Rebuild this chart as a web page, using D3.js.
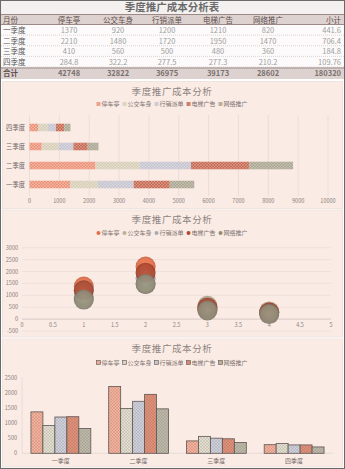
<!DOCTYPE html>
<html lang="zh">
<head>
<meta charset="UTF-8">
<title>季度推广成本分析</title>
<script src="https://d3js.org/d3.v7.min.js"></script>
<style>
  body { margin: 0; background: #fff; }
  svg { display: block; font-family: "Noto Sans CJK SC", "Noto Sans", sans-serif; }
</style>
</head>
<body>
<svg width="345" height="469"></svg>
<script>
var quarters = ["一季度", "二季度", "三季度", "四季度"];
var channels = ["停车亭", "公交车身", "行销派单", "电梯广告", "网络推广"];
var tingche = [1370, 2210, 410, 284.8];
var gongjiao = [920, 1480, 560, 322.2];
var paidan = [1200, 1720, 500, 277.5];
var dianti = [1210, 1950, 480, 277.3];
var wangluo = [820, 1470, 360, 210.2];
var subtotals = [441.6, 706.4, 184.8, 109.76];
var totals = [42748, 32822, 36975, 39173, 28602, 180320];
var barTicks = [0, 1000, 2000, 3000, 4000, 5000, 6000, 7000, 8000, 9000, 10000];
var bubbleXTicks = [0, 0.5, 1, 1.5, 2, 2.5, 3, 3.5, 4, 4.5, 5];
var bubbleYTicks = [-500, 0, 500, 1000, 1500, 2000, 2500, 3000];
var columnTicks = [0, 500, 1000, 1500, 2000, 2500];

var series = [tingche, gongjiao, paidan, dianti, wangluo];
var barColors = ["#ec9479", "#d8cfb8", "#c6c5d0", "#c86b55", "#aca793"];
var bubbleColors = ["#e26f48", "#bdb193", "#a9aab6", "#ad4a31", "#8f8c79"];
var colColors = ["#f4b09a", "#e2dfcf", "#ced0dc", "#e09079", "#bcb9a9"];

var svg = d3.select("svg");
var defs = svg.append("defs");

function makePattern(id, color, hatch, op) {
  var p = defs.append("pattern").attr("id", id)
    .attr("patternUnits", "userSpaceOnUse").attr("width", 3).attr("height", 3);
  p.append("rect").attr("width", 3).attr("height", 3).attr("fill", color);
  p.append("path").attr("d", "M0,0L3,3M3,0L0,3M-1,2L1,4M2,-1L4,1")
    .attr("stroke", hatch).attr("stroke-opacity", op).attr("stroke-width", 0.6);
}
barColors.forEach(function(c, i) { makePattern("bp" + i, c, "#fff", 0.35); });
colColors.forEach(function(c, i) { makePattern("cp" + i, c, "#5e4a44", 0.22); });
bubbleColors.forEach(function(c, i) {
  var g = defs.append("radialGradient").attr("id", "bg" + i);
  g.append("stop").attr("offset", "0%").attr("stop-color", d3.color(c).brighter(0.25));
  g.append("stop").attr("offset", "80%").attr("stop-color", c);
  g.append("stop").attr("offset", "100%").attr("stop-color", d3.color(c).darker(0.4));
});

// ---------- table ----------
svg.append("rect").attr("x", 0).attr("y", 0).attr("width", 345).attr("height", 469).attr("fill", "#fff");
svg.append("rect").attr("x", 1).attr("y", 1).attr("width", 343).attr("height", 13).attr("fill", "#f3f0ef");
svg.append("text").attr("x", 172).attr("y", 11).attr("text-anchor", "middle")
  .attr("font-size", 10.5).attr("font-weight", "bold").attr("fill", "#6b6b6b")
  .text("季度推广成本分析表");

var colX = [69, 118, 167, 218, 268];
var headRow = svg.append("g");
headRow.append("rect").attr("x", 1).attr("y", 14).attr("width", 343).attr("height", 11).attr("fill", "#ddd2cf");
headRow.append("line").attr("x1", 1).attr("x2", 344).attr("y1", 14.5).attr("y2", 14.5).attr("stroke", "#9b8986");
headRow.append("line").attr("x1", 1).attr("x2", 344).attr("y1", 24.5).attr("y2", 24.5).attr("stroke", "#9b8986");
headRow.append("text").attr("x", 3).attr("y", 22.5).text("月份");
headRow.selectAll("text.h").data(channels).join("text").attr("class", "h")
  .attr("x", function(d, i) { return colX[i]; }).attr("y", 22.5).attr("text-anchor", "middle").text(function(d) { return d; });
headRow.append("text").attr("x", 341).attr("y", 22.5).attr("text-anchor", "end").text("小计");
headRow.selectAll("text").attr("font-size", 7.5).attr("fill", "#5e4f4d");

var rowY = d3.scaleBand().domain(quarters).range([25, 67.5]);
svg.append("rect").attr("x", 1).attr("y", 25).attr("width", 343).attr("height", 42.5).attr("fill", "#fcfafa");
var rows = svg.selectAll("g.row").data(quarters).join("g").attr("class", "row")
  .attr("transform", function(d) { return "translate(0," + rowY(d) + ")"; });
rows.append("line").attr("x1", 1).attr("x2", 344).attr("y1", rowY.bandwidth() - 0.5).attr("y2", rowY.bandwidth() - 0.5)
  .attr("stroke", "#dcd3d1").attr("stroke-dasharray", "1,1");
rows.append("text").attr("x", 3).attr("y", 8.2).attr("font-size", 7.5).attr("fill", "#5a5a5a").text(function(d) { return d; });
rows.each(function(q, qi) {
  var g = d3.select(this);
  series.forEach(function(s, si) {
    g.append("text").attr("x", colX[si]).attr("y", 8.2).attr("text-anchor", "middle")
      .attr("font-size", 7.5).attr("fill", "#a0a0a0").text(s[qi]);
  });
  g.append("text").attr("x", 341).attr("y", 8.2).attr("text-anchor", "end")
    .attr("font-size", 7.5).attr("fill", "#a0a0a0").text(subtotals[qi]);
});

var totRow = svg.append("g");
totRow.append("rect").attr("x", 1).attr("y", 67.5).attr("width", 343).attr("height", 11.5).attr("fill", "#ddd2cf");
totRow.append("line").attr("x1", 1).attr("x2", 344).attr("y1", 68).attr("y2", 68).attr("stroke", "#9b8986");
totRow.append("text").attr("x", 3).attr("y", 76.3).attr("fill", "#5e4f4d").text("合计");
totRow.selectAll("text.t").data(totals).join("text").attr("class", "t")
  .attr("x", function(d, i) { return i < 5 ? colX[i] : 341; })
  .attr("text-anchor", function(d, i) { return i < 5 ? "middle" : "end"; })
  .attr("y", 76.3).attr("fill", "#7a7070").text(function(d) { return d; });
totRow.selectAll("text").attr("font-size", 7.5).attr("font-weight", "bold");

// ---------- panels ----------
function panel(y0, h) {
  svg.append("rect").attr("x", 2.5).attr("y", y0 + 0.5).attr("width", 340).attr("height", h)
    .attr("fill", "#fbebe5").attr("stroke", "#efe3df");
}
function title(y) {
  svg.append("text").attr("x", 172).attr("y", y).attr("text-anchor", "middle")
    .attr("font-size", 9.5).attr("letter-spacing", 0.6).attr("fill", "#8c8480").text("季度推广成本分析");
}
function legend(y, kind, fills) {
  var g = svg.append("g");
  var items = g.selectAll("g").data(channels).join("g");
  items.append("text").attr("x", 5).attr("y", y + 2).attr("font-size", 6).attr("fill", "#7b7370").text(function(d) { return d; });
  if (kind === "circle") {
    items.append("circle").attr("cx", 2).attr("cy", y).attr("r", 2).attr("fill", function(d, i) { return fills[i]; });
  } else {
    items.append("rect").attr("x", 0).attr("y", y - 2).attr("width", 4).attr("height", 4)
      .attr("fill", function(d, i) { return fills[i]; })
      .attr("stroke", kind === "outline" ? "#5e5654" : "none").attr("stroke-width", 0.6);
  }
  var widths = [];
  items.each(function() { widths.push(this.getBBox().width); });
  var total = d3.sum(widths) + 3 * (widths.length - 1);
  var x = 172 - total / 2;
  items.attr("transform", function(d, i) { var t = "translate(" + x + ",0)"; x += widths[i] + 3; return t; });
}

panel(81, 127);
panel(209.5, 127);
panel(338.5, 128);

// ---------- chart 1: stacked horizontal bars ----------
title(95);
legend(104, "square", barColors.map(function(c, i) { return "url(#bp" + i + ")"; }));
var x1 = d3.scaleLinear().domain([0, 10000]).range([29.5, 328]);
var y1 = d3.scaleBand().domain(quarters.slice().reverse()).range([118, 194]).paddingInner(0.6).paddingOuter(0.3);
var c1 = svg.append("g");
c1.selectAll("line.grid").data(barTicks).join("line").attr("class", "grid")
  .attr("x1", function(d) { return x1(d); }).attr("x2", function(d) { return x1(d); })
  .attr("y1", 115).attr("y2", 196).attr("stroke", "#e3d8d4").attr("stroke-width", 0.7);
c1.selectAll("text.tick").data(barTicks).join("text").attr("class", "tick")
  .attr("x", function(d) { return x1(d); }).attr("y", 203).attr("text-anchor", "middle")
  .attr("font-size", 5.5).attr("fill", "#8a8280").text(function(d) { return d; });
c1.selectAll("text.cat").data(quarters).join("text").attr("class", "cat")
  .attr("x", 25).attr("y", function(d) { return y1(d) + y1.bandwidth() / 2 + 2.2; }).attr("text-anchor", "end")
  .attr("font-size", 6.3).attr("fill", "#6f6865").text(function(d) { return d; });
var stackRows = quarters.map(function(q, i) { return { q: q, v: series.map(function(s) { return s[i]; }) }; });
var stacked = d3.stack().keys(d3.range(5)).value(function(d, k) { return d.v[k]; })(stackRows);
c1.selectAll("g.layer").data(stacked).join("g").attr("class", "layer")
  .attr("fill", function(d, i) { return "url(#bp" + i + ")"; })
  .selectAll("rect").data(function(d) { return d; }).join("rect")
  .attr("x", function(d) { return x1(d[0]); }).attr("width", function(d) { return x1(d[1]) - x1(d[0]); })
  .attr("y", function(d) { return y1(d.data.q); }).attr("height", y1.bandwidth());

// ---------- chart 2: bubbles ----------
title(223);
legend(233, "circle", bubbleColors);
var x2 = d3.scaleLinear().domain([0, 5]).range([22, 331]);
var y2 = d3.scaleLinear().domain([-500, 3000]).range([331, 247.7]);
var c2 = svg.append("g");
c2.selectAll("line.grid").data(bubbleYTicks).join("line").attr("class", "grid")
  .attr("x1", x2(0)).attr("x2", x2(5)).attr("y1", function(d) { return y2(d); }).attr("y2", function(d) { return y2(d); })
  .attr("stroke", function(d) { return d === 0 ? "#c9bdb9" : "#e8ddd9"; }).attr("stroke-width", 0.7);
c2.selectAll("text.yt").data(bubbleYTicks).join("text").attr("class", "yt")
  .attr("x", 18).attr("y", function(d) { return y2(d) + 2; }).attr("text-anchor", "end")
  .attr("font-size", 5.5).attr("fill", "#8a8280").text(function(d) { return d; });
c2.selectAll("text.xt").data(bubbleXTicks).join("text").attr("class", "xt")
  .attr("x", function(d) { return x2(d); }).attr("y", 326.5).attr("text-anchor", "middle")
  .attr("font-size", 5.5).attr("fill", "#8a8280").text(function(d) { return d; });
series.forEach(function(s, si) {
  c2.append("g").selectAll("circle").data(s).join("circle")
    .attr("cx", function(d, i) { return x2(i + 1); }).attr("cy", function(d) { return y2(d); })
    .attr("r", 10).attr("fill", "url(#bg" + si + ")").attr("fill-opacity", 0.92);
});

// ---------- chart 3: clustered columns ----------
title(352);
legend(362.5, "outline", colColors.map(function(c, i) { return "url(#cp" + i + ")"; }));
var x3 = d3.scaleBand().domain(quarters).range([22, 333]).paddingInner(0.23).paddingOuter(0.115);
var xs = d3.scaleBand().domain(d3.range(5)).range([0, x3.bandwidth()]);
var y3 = d3.scaleLinear().domain([0, 2500]).range([453.3, 377.7]);
var c3 = svg.append("g");
c3.append("line").attr("x1", 22).attr("x2", 22).attr("y1", 377).attr("y2", 453.3).attr("stroke", "#e0d5d1").attr("stroke-width", 0.7);
c3.append("line").attr("x1", 22).attr("x2", 333).attr("y1", 453.3).attr("y2", 453.3).attr("stroke", "#e0d5d1").attr("stroke-width", 0.7);
c3.selectAll("text.yt").data(columnTicks).join("text").attr("class", "yt")
  .attr("x", 17).attr("y", function(d) { return y3(d) + 2; }).attr("text-anchor", "end")
  .attr("font-size", 5.5).attr("fill", "#8a8280").text(function(d) { return d; });
c3.selectAll("text.cat").data(quarters).join("text").attr("class", "cat")
  .attr("x", function(d) { return x3(d) + x3.bandwidth() / 2; }).attr("y", 462.5).attr("text-anchor", "middle")
  .attr("font-size", 6).attr("fill", "#6f6865").text(function(d) { return d; });
series.forEach(function(s, si) {
  c3.append("g").selectAll("rect").data(s).join("rect")
    .attr("x", function(d, i) { return x3(quarters[i]) + xs(si); }).attr("width", xs.bandwidth())
    .attr("y", function(d) { return y3(d); }).attr("height", function(d) { return y3(0) - y3(d); })
    .attr("fill", "url(#cp" + si + ")").attr("stroke", "#5e5654").attr("stroke-width", 0.8);
});

// outer frame
svg.append("rect").attr("x", 0.5).attr("y", 0.5).attr("width", 344).attr("height", 468)
  .attr("fill", "none").attr("stroke", "#6a6a6a");
</script>
</body>
</html>
